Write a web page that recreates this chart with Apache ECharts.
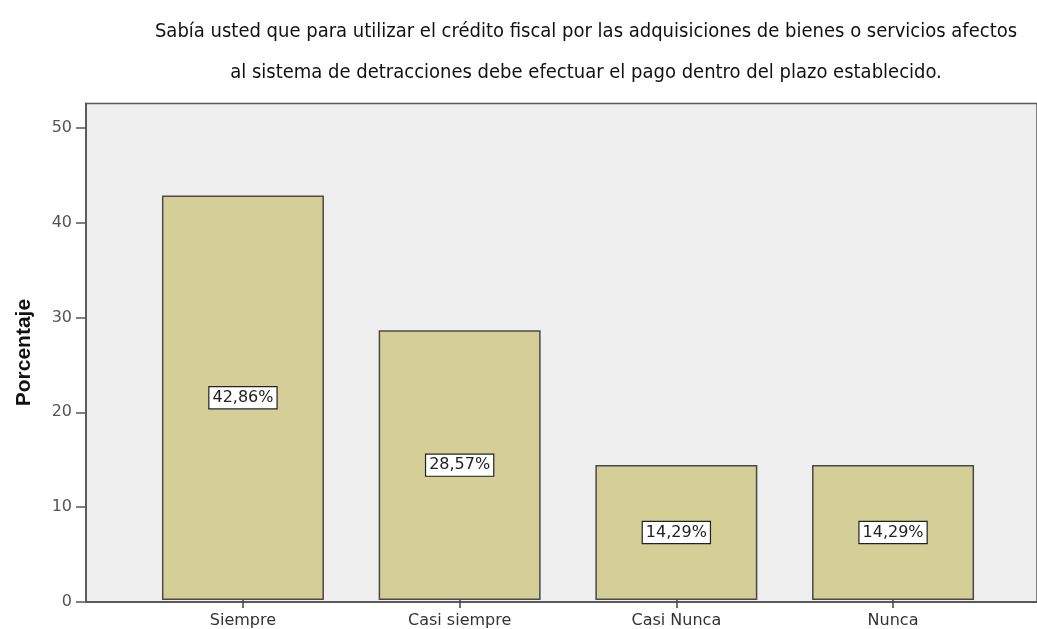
<!DOCTYPE html>
<html>
<head>
<meta charset="utf-8">
<script src="https://cdn.jsdelivr.net/npm/echarts@6/dist/echarts.min.js"></script>
<style>
  html, body { margin: 0; padding: 0; background: #ffffff; }
  #chart { width: 1037px; height: 629px; }
</style>
</head>
<body>
<div id="chart"></div>
<script>
// Respuestas a la pregunta sobre el crédito fiscal y las detracciones
const categorias = ['Siempre', 'Casi siempre', 'Casi Nunca', 'Nunca'];
const porcentajes = [42.86, 28.57, 14.29, 14.29];
const marcasEje = [0, 10, 20, 30, 40, 50];
const tituloLineas = [
  'Sabía usted que para utilizar el crédito fiscal por las adquisiciones de bienes o servicios afectos',
  'al sistema de detracciones debe efectuar el pago dentro del plazo establecido.'
];
const yMax = 52.6;

const chart = echarts.init(document.getElementById('chart'), null, { renderer: 'canvas' });

const plotTop = 103.5;
const plotBottom = 629 - 601.7;
const tickFont = 'DejaVu Sans';

chart.setOption({
  animation: false,
  backgroundColor: '#ffffff',
  title: {
    text: tituloLineas.join('\n'),
    left: 581,
    textAlign: 'center',
    top: 6,
    textStyle: {
      fontFamily: '"DejaVu Sans Condensed", "Liberation Sans"',
      fontWeight: 'normal',
      fontSize: 20,
      lineHeight: 41,
      color: '#111'
    }
  },
  grid: [
    // plot frame with grey background
    {
      left: 86, top: plotTop, width: 964, bottom: plotBottom,
      show: true, backgroundColor: '#efefef',
      borderColor: '#5a5a5a', borderWidth: 1.5
    },
    // band area holding the bars
    {
      left: 134.6, top: plotTop, width: 866.8, bottom: plotBottom
    }
  ],
  xAxis: [
    {
      gridIndex: 0, type: 'value', min: 0, max: 1,
      axisLine: { show: true, lineStyle: { color: '#5a5a5a', width: 2 } },
      axisTick: { show: false }, axisLabel: { show: false }, splitLine: { show: false }
    },
    {
      gridIndex: 1, type: 'category', data: categorias, boundaryGap: true,
      axisLine: { show: false },
      axisTick: { show: true, alignWithLabel: true, length: 8, lineStyle: { color: '#444', width: 1.5 } },
      axisLabel: { margin: 13, fontFamily: tickFont, fontSize: 16, color: '#333' },
      splitLine: { show: false }
    }
  ],
  yAxis: [
    {
      gridIndex: 0, type: 'value', min: 0, max: yMax,
      name: 'Porcentaje', nameLocation: 'middle', nameGap: 51, nameRotate: 90,
      nameTextStyle: { fontFamily: 'Liberation Sans', fontWeight: 'bold', fontSize: 21, color: '#111' },
      axisLine: { show: true, lineStyle: { color: '#5a5a5a', width: 2 } },
      axisTick: { show: true, length: 10, customValues: marcasEje, lineStyle: { color: '#555', width: 1.5 } },
      axisLabel: { customValues: marcasEje, margin: 14, fontFamily: tickFont, fontSize: 16, color: '#555' },
      splitLine: { show: false }
    },
    {
      gridIndex: 1, type: 'value', min: 0, max: yMax, show: false,
      splitLine: { show: false }
    }
  ],
  series: [
    {
      type: 'bar',
      xAxisIndex: 1, yAxisIndex: 1,
      data: porcentajes,
      barWidth: 162,
      itemStyle: { color: '#d3cf97', borderColor: '#4a4a4a', borderWidth: 1.5 },
      label: {
        show: true,
        position: 'inside',
        formatter: p => p.value.toFixed(2).replace('.', ',') + '%',
        fontFamily: tickFont,
        fontSize: 16,
        color: '#222',
        backgroundColor: '#ffffff',
        borderColor: '#222',
        borderWidth: 1.2,
        padding: [3, 3, 2, 3]
      }
    }
  ]
});
</script>
</body>
</html>
